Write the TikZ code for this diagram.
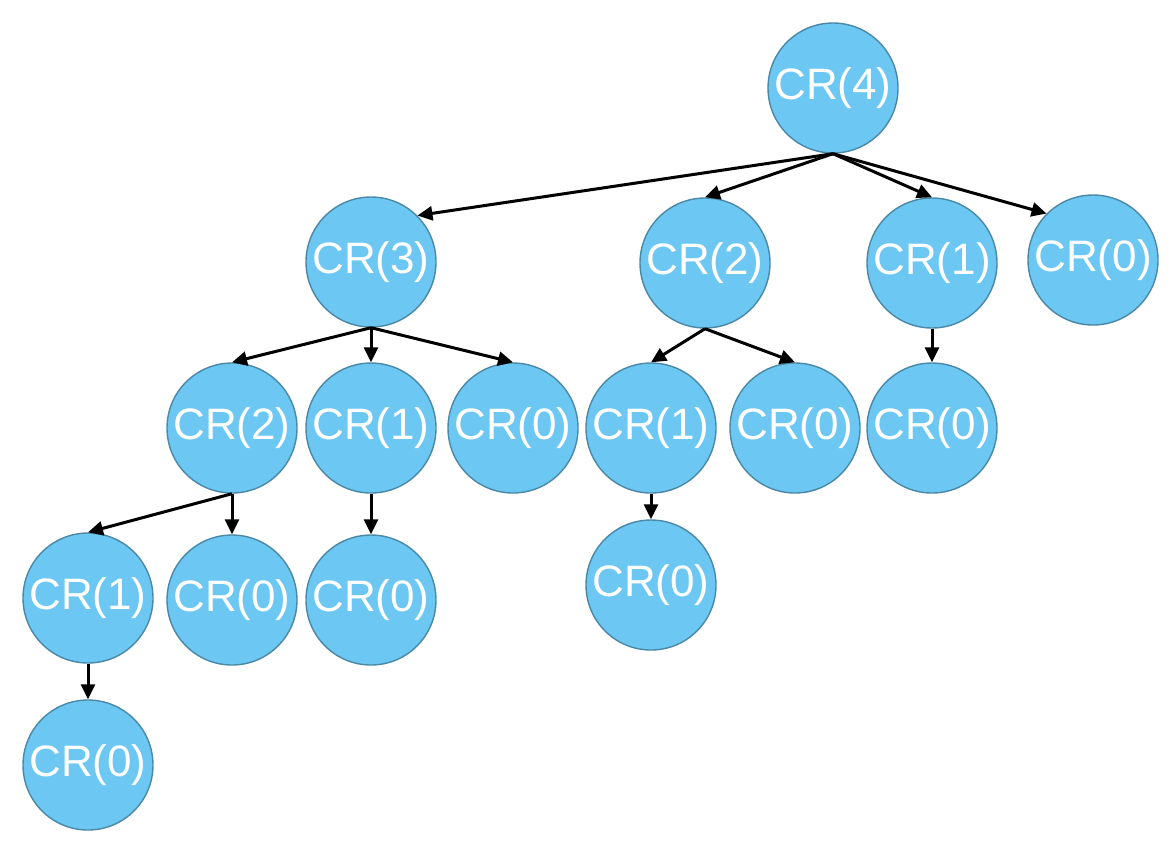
\documentclass[tikz,border=0pt]{standalone}
\usepackage{fontspec}
\setmainfont{Liberation Sans}
\usetikzlibrary{arrows.meta}
\definecolor{crfill}{HTML}{6CC7F2}
\definecolor{crline}{HTML}{4A88A8}
\begin{document}
\begin{tikzpicture}[x=0.5pt,y=-0.5pt,
  crnode/.style={circle,fill=crfill,draw=crline,line width=0.7pt,
    minimum size=65pt,inner sep=0pt,text=white,
    font=\fontsize{22}{24}\selectfont},
  call/.style={-{Triangle[length=7.5pt,width=7pt]},line width=1.5pt,black}]
\useasboundingbox (0,0) rectangle (1172,848);
% recursion tree of calls
\node[crnode] (r)    at (833,88)  {CR(4)};
\node[crnode] (a)    at (371,262) {CR(3)};
\node[crnode] (b)    at (705,263) {CR(2)};
\node[crnode] (c)    at (932,263) {CR(1)};
\node[crnode] (d)    at (1093,260) {CR(0)};
\node[crnode] (aa)   at (232,428) {CR(2)};
\node[crnode] (ab)   at (371,428) {CR(1)};
\node[crnode] (ac)   at (513,428) {CR(0)};
\node[crnode] (ba)   at (651,428) {CR(1)};
\node[crnode] (bb)   at (795,428) {CR(0)};
\node[crnode] (ca)   at (932,428) {CR(0)};
\node[crnode] (aaa)  at (88,598)  {CR(1)};
\node[crnode] (aab)  at (232,600) {CR(0)};
\node[crnode] (aba)  at (371,600) {CR(0)};
\node[crnode] (baa)  at (651,585) {CR(0)};
\node[crnode] (aaaa) at (88,765)  {CR(0)};
% calls
\draw[call] (r.south) -- (a.45);
\draw[call] (r.south) -- (b.north);
\draw[call] (r.south) -- (c.north);
\draw[call] (r.south) -- (d.135);
\draw[call] (a.south) -- (aa.north);
\draw[call] (a.south) -- (ab.north);
\draw[call] (a.south) -- (ac.north);
\draw[call] (b.south) -- (ba.north);
\draw[call] (b.south) -- (bb.north);
\draw[call] (c.south) -- (ca.north);
\draw[call] (aa.south) -- (aaa.north);
\draw[call] (aa.south) -- (aab.north);
\draw[call] (ab.south) -- (aba.north);
\draw[call] (ba.south) -- (baa.north);
\draw[call] (aaa.south) -- (aaaa.north);
\end{tikzpicture}
\end{document}
